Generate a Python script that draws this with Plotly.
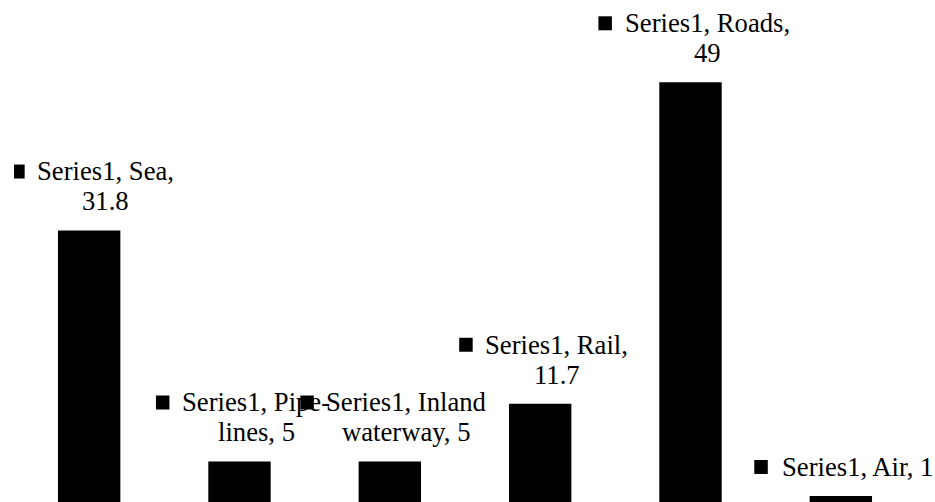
import re
import plotly.graph_objects as go

# Freight transport share by mode
series_name = "Series1"
categories = ["Sea", "Pipe-lines", "Inland waterway", "Rail", "Roads", "Air"]
values = [31.8, 5, 5, 11.7, 49, 1]

FONT = "Times New Roman"
FS = 26.67          # label font size (px)
LINE_GAP = 30       # baseline-to-baseline distance (px)
LAST_BASE = 19      # last label baseline above bar top (px)
KEY_OFFSET = 16.5   # text block shifted right to make room for the legend key
MAX_W = 175         # wrap width for labels (px)

# Times/Liberation Serif advance widths (1/1000 em)
ADV = {" ": 250, ",": 250, "-": 333, ".": 250, "A": 722, "I": 333, "P": 556,
       "R": 667, "S": 556, "a": 444, "d": 500, "e": 444, "i": 278, "l": 278,
       "n": 500, "o": 500, "p": 500, "r": 333, "s": 389, "t": 278, "w": 722,
       "y": 500}


def text_width(s):
    return sum(ADV.get(c, 500) for c in s) / 1000.0 * FS


def wrap(s):
    toks = []
    for wi, word in enumerate(s.split(" ")):
        parts = [p for p in re.split(r"(?<=-)", word) if p]
        for pi, p in enumerate(parts):
            toks.append((" " if (pi == 0 and wi > 0) else "", p))
    lines, line = [], ""
    for sep, p in toks:
        cand = line + sep + p if line else p
        if line and text_width(cand) > MAX_W:
            lines.append(line)
            line = p
        else:
            line = cand
    lines.append(line)
    return lines


xs = list(range(len(categories)))

fig = go.Figure(go.Bar(
    x=xs, y=values, width=0.415,
    marker=dict(color="black", line=dict(width=0)),
    hoverinfo="skip",
))

annotations, shapes = [], []
descent = 0.216 * FS
for i, (cat, v) in enumerate(zip(categories, values)):
    label = f"{series_name}, {cat}, {v:g}"
    lines = wrap(label)
    n = len(lines)
    for j, ln in enumerate(lines):
        base = LAST_BASE + (n - 1 - j) * LINE_GAP
        annotations.append(dict(
            x=i, y=v, xref="x", yref="y", text=ln, showarrow=False,
            xanchor="center", yanchor="bottom", borderpad=0,
            xshift=KEY_OFFSET, yshift=base - descent,
            font=dict(family=FONT, size=FS, color="black"),
        ))
    # legend key square before the first line
    w = max(text_width(ln) for ln in lines)
    left = KEY_OFFSET - w / 2
    top_base = LAST_BASE + (n - 1) * LINE_GAP
    shapes.append(dict(
        type="rect", xref="x", yref="y",
        xsizemode="pixel", ysizemode="pixel", xanchor=i, yanchor=v,
        x0=left - 26, x1=left - 12.5, y0=top_base + 3, y1=top_base + 17,
        fillcolor="black", line=dict(width=0),
    ))

fig.update_layout(
    width=935, height=502,
    margin=dict(l=14, r=19, t=0, b=0),
    paper_bgcolor="white", plot_bgcolor="white",
    showlegend=False,
    xaxis=dict(visible=False, range=[-0.5, 5.5]),
    yaxis=dict(visible=False, range=[0.30, 58.55]),
    annotations=annotations, shapes=shapes,
    hovermode=False,
)

fig.write_html("out.html")
